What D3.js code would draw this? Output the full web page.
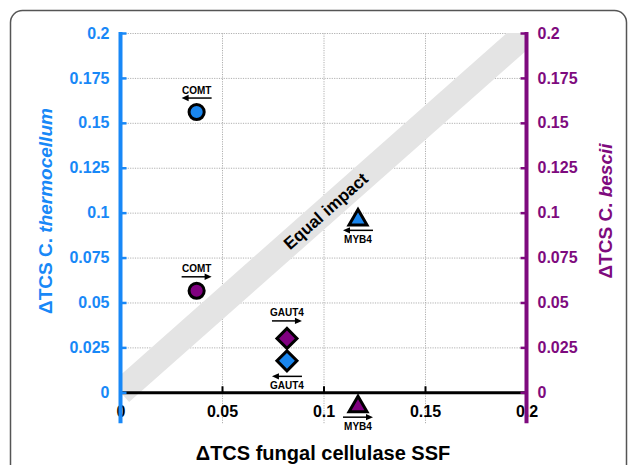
<!DOCTYPE html>
<html>
<head>
<meta charset="utf-8">
<script src="https://cdn.jsdelivr.net/npm/d3@7"></script>
<style>
  body { margin: 0; background: #fff; }
  svg { display: block; font-family: "Liberation Sans", Arial, sans-serif; }
  .grid line { stroke: #b0b0b0; stroke-width: 1; stroke-dasharray: 1.2 1.2; }
  .grid path { display: none; }
</style>
</head>
<body>
<div id="svg-container"></div>
<script>
////////////////////////////////////////////////////////////////////
////////////////////////////  Data  ////////////////////////////////
const genes = ["COMT", "GAUT4", "MYB4"];
const fungalSSF = [0.0375, 0.082, 0.117];        // x
const thermocellum = [0.156, 0.0175, 0.096];     // left axis
const bescii = [0.0565, 0.030, -0.008];          // right axis
const thermoArrow = [-1, -1, -1];                // arrow direction
const besciiArrow = [1, 1, 1];
const thermoLabelSide = ["above", "below", "below"];
const besciiLabelSide = ["above", "above", "below"];

const xTicks = [0, 0.05, 0.1, 0.15, 0.2];
const yTicks = [0, 0.025, 0.05, 0.075, 0.1, 0.125, 0.15, 0.175, 0.2];
const xTickLabels = ["0", "0.05", "0.1", "0.15", "0.2"];
const yTickLabels = ["0", "0.025", "0.05", "0.075", "0.1", "0.125", "0.15", "0.175", "0.2"];

////////////////////////////////////////////////////////////////////
////////////////////////////  Init  ////////////////////////////////
const width = 630, height = 465;
const blue = "#1888f7";
const purple = "#7e0a7e";
const blueFill = "#1a86ee";
const purpleFill = "#800080";
const axisFloor = -0.0172; // axes run a bit below zero

const svg = d3.select("#svg-container").append("svg")
  .attr("width", width).attr("height", height);

const x = d3.scaleLinear().domain([0, 0.2]).range([120.5, 526.5]);
const y = d3.scaleLinear().domain([0, 0.2]).range([392.3, 33]);

// frame
svg.append("rect")
  .attr("x", 10.5).attr("y", 10.5)
  .attr("width", 616).attr("height", 490)
  .attr("rx", 12)
  .attr("fill", "none")
  .attr("stroke", "#555")
  .attr("stroke-width", 1.5);

// grid
svg.append("g")
  .attr("class", "grid")
  .attr("transform", `translate(${x(0)},0)`)
  .call(d3.axisLeft(y).tickValues(yTicks.slice(1)).tickSize(-(x(0.2) - x(0))).tickFormat(""));

svg.append("g")
  .attr("class", "grid")
  .attr("transform", `translate(0,${y(axisFloor)})`)
  .call(d3.axisBottom(x).tickValues(xTicks.slice(1, -1)).tickSize(-(y(axisFloor) - y(0.2))).tickFormat(""));

// equal impact band
svg.append("clipPath").attr("id", "plot-clip")
  .append("rect")
  .attr("x", x(0)).attr("y", y(0.2))
  .attr("width", x(0.2) - x(0))
  .attr("height", y(axisFloor) - y(0.2) + 10);

svg.append("line")
  .attr("clip-path", "url(#plot-clip)")
  .attr("x1", x(0)).attr("y1", y(0))
  .attr("x2", x(0.2)).attr("y2", y(0.2))
  .attr("stroke", "#e4e4e4")
  .attr("stroke-width", 26);

const bandAngle = Math.atan2(y(0) - y(0.2), x(0.2) - x(0)) * 180 / Math.PI;
const labelAt = 0.101;
svg.append("text")
  .attr("transform", `translate(${x(labelAt)},${y(labelAt)}) rotate(${-bandAngle})`)
  .attr("text-anchor", "middle")
  .attr("dy", "0.36em")
  .attr("font-size", 17)
  .attr("font-weight", "bold")
  .text("Equal impact");

// x axis
const xAxis = svg.append("g")
  .attr("transform", `translate(0,${y(0)})`)
  .call(d3.axisBottom(x).tickValues(xTicks).tickSizeInner(-6).tickSizeOuter(0)
    .tickPadding(13.5).tickFormat((d, i) => xTickLabels[i]));
xAxis.select(".domain").attr("stroke", "#000").attr("stroke-width", 3);
xAxis.selectAll(".tick line").attr("stroke", "#000").attr("stroke-width", 2);
xAxis.selectAll(".tick text")
  .attr("font-size", 16).attr("font-weight", "bold").attr("fill", "#000")
  .attr("font-family", "Liberation Sans, Arial, sans-serif");

// left axis (C. thermocellum)
svg.append("line")
  .attr("x1", x(0)).attr("x2", x(0))
  .attr("y1", y(0.2) - 1).attr("y2", y(axisFloor))
  .attr("stroke", blue).attr("stroke-width", 4);

const yLeft = svg.append("g")
  .attr("transform", `translate(${x(0)},0)`)
  .call(d3.axisLeft(y).tickValues(yTicks).tickSizeInner(-6).tickSizeOuter(0)
    .tickPadding(11).tickFormat((d, i) => yTickLabels[i]));
yLeft.select(".domain").remove();
yLeft.selectAll(".tick line").attr("stroke", blue).attr("stroke-width", 2.5);
yLeft.selectAll(".tick text")
  .attr("font-size", 16).attr("font-weight", "bold").attr("fill", blue)
  .attr("font-family", "Liberation Sans, Arial, sans-serif");

// right axis (C. bescii)
svg.append("line")
  .attr("x1", x(0.2)).attr("x2", x(0.2))
  .attr("y1", y(0.2) - 1).attr("y2", y(axisFloor))
  .attr("stroke", purple).attr("stroke-width", 4);

const yRight = svg.append("g")
  .attr("transform", `translate(${x(0.2)},0)`)
  .call(d3.axisRight(y).tickValues(yTicks).tickSizeInner(-6).tickSizeOuter(0)
    .tickPadding(11).tickFormat((d, i) => yTickLabels[i]));
yRight.select(".domain").remove();
yRight.selectAll(".tick line").attr("stroke", purple).attr("stroke-width", 2.5);
yRight.selectAll(".tick text")
  .attr("font-size", 16).attr("font-weight", "bold").attr("fill", purple)
  .attr("font-family", "Liberation Sans, Arial, sans-serif");

// axis titles
const leftTitle = svg.append("text")
  .attr("transform", `translate(52,211) rotate(-90)`)
  .attr("text-anchor", "middle")
  .attr("font-size", 19).attr("font-weight", "bold").attr("fill", blue);
leftTitle.append("tspan").text("ΔTCS C. ");
leftTitle.append("tspan").attr("font-style", "italic").text("thermocellum");

const rightTitle = svg.append("text")
  .attr("transform", `translate(612,211) rotate(-90)`)
  .attr("text-anchor", "middle")
  .attr("font-size", 19).attr("font-weight", "bold").attr("fill", purple);
rightTitle.append("tspan").text("ΔTCS C. ");
rightTitle.append("tspan").attr("font-style", "italic").text("bescii");

svg.append("text")
  .attr("x", 323).attr("y", 460)
  .attr("text-anchor", "middle")
  .attr("font-size", 20).attr("font-weight", "bold")
  .text("ΔTCS fungal cellulase SSF");

////////////////////////////////////////////////////////////////////
////////////////////////////  Points  //////////////////////////////
const shapeOf = {
  COMT: { type: d3.symbolCircle, size: 180, rotate: 0, above: 14, below: 14 },
  GAUT4: { type: d3.symbolSquare, size: 200, rotate: 45, above: 17.5, below: 15.5 },
  MYB4: { type: d3.symbolTriangle, size: 140, rotate: 0, above: 16, below: 10.5 },
};

const series = [
  { values: thermocellum, fill: blueFill, arrows: thermoArrow, sides: thermoLabelSide },
  { values: bescii, fill: purpleFill, arrows: besciiArrow, sides: besciiLabelSide },
];

const points = [];
series.forEach((s) => {
  genes.forEach((g, i) => {
    points.push({
      gene: g, xv: fungalSSF[i], yv: s.values[i],
      fill: s.fill, dir: s.arrows[i], side: s.sides[i],
    });
  });
});

const pts = svg.append("g").selectAll("g")
  .data(points)
  .join("g")
  .attr("transform", (d) => `translate(${x(d.xv)},${y(d.yv)})`);

pts.append("path")
  .attr("d", (d) => d3.symbol().type(shapeOf[d.gene].type).size(shapeOf[d.gene].size)())
  .attr("transform", (d) => `rotate(${shapeOf[d.gene].rotate})`)
  .attr("fill", (d) => d.fill)
  .attr("stroke", "#000")
  .attr("stroke-width", 3)
  .attr("stroke-linejoin", "miter");

// arrows
const arrowY = (d) => (d.side === "above" ? -shapeOf[d.gene].above : shapeOf[d.gene].below);
const halfLen = 15;

pts.append("line")
  .attr("x1", (d) => -halfLen * d.dir)
  .attr("x2", (d) => (halfLen - 4) * d.dir)
  .attr("y1", arrowY).attr("y2", arrowY)
  .attr("stroke", "#000")
  .attr("stroke-width", 1.5);

pts.append("path")
  .attr("d", (d) => {
    const ay = arrowY(d), tip = halfLen * d.dir, back = (halfLen - 7) * d.dir;
    return `M${tip},${ay}L${back},${ay - 3.2}L${back},${ay + 3.2}Z`;
  })
  .attr("fill", "#000");

pts.append("text")
  .attr("y", (d) => (d.side === "above" ? arrowY(d) - 4.5 : arrowY(d) + 12.5))
  .attr("text-anchor", "middle")
  .attr("font-size", 10)
  .attr("font-weight", "bold")
  .text((d) => d.gene);
</script>
</body>
</html>
